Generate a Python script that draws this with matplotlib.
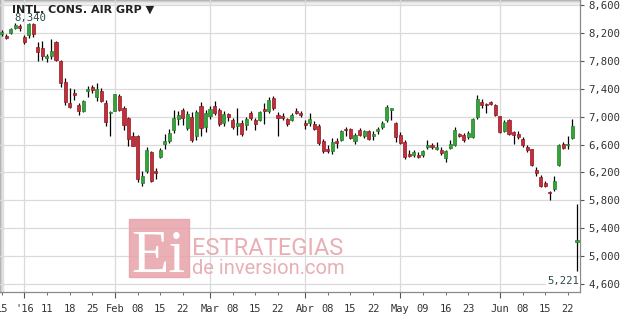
import numpy as np
import matplotlib
matplotlib.use("Agg")
import matplotlib.pyplot as plt
from matplotlib.patches import Rectangle

# daily candles, Dec 24 2015 .. Jun 24 2016 (trading-day index)
opens = [8180, 8160, 8205, 8270, 8300, 8135, 8175, 8330, 7995, 7980,
         7840, 7862, 8075, 7800, 7500, 7200, 7335, 7170, 7075, 7362,
         7430, 7275, 7360, 7200, 7045, 7085, 7300, 7120, 6980, 6715,
         6715, 6050, 6215, 6490, 6215, 6420, 6610, 6645, 6815, 6965,
         7095, 6840, 7000, 6720, 7145, 6850, 7005, 7145, 7100, 6910,
         7035, 6955, 6872, 6915, 6885, 7050, 6955, 6955, 7105, 7075,
         7265, 7025, 7010, 6965, 6948, 7085, 7050, 6910, 6910, 6898,
         6870, 6655, 6540, 6505, 6645, 6670, 6825, 6820, 6648, 6810,
         6728, 6790, 6728, 6798, 6846, 6945, 7100, 6905, 6740, 6635,
         6465, 6445, 6450, 6445, 6565, 6595, 6530, 6525, 6405, 6555,
         6600, 6745, 6740, 6705, 6705, 6995, 7215, 7185, 7210, 7170,
         7005, 6800, 6945, 6785, 6755, 6680, 6570, 6530, 6235, 6130,
         6050, 5925, 5955, 6310, 6610, 6590, 6690, 5205]
highs = [8240, 8180, 8265, 8340, 8330, 8170, 8340, 8340, 8075, 8080,
         7900, 8110, 8090, 7815, 7550, 7410, 7400, 7200, 7240, 7440,
         7460, 7480, 7410, 7240, 7075, 7330, 7330, 7150, 7000, 6780,
         6730, 6215, 6570, 6500, 6270, 6550, 6750, 6820, 7100, 7080,
         7130, 7080, 7060, 7100, 7215, 7100, 7145, 7230, 7120, 7075,
         7050, 6980, 7130, 6955, 6990, 7075, 6980, 7075, 7190, 7275,
         7290, 7060, 7050, 6980, 7050, 7120, 7075, 6955, 7050, 6930,
         6895, 6680, 6600, 6690, 6690, 6810, 6845, 6835, 6765, 6835,
         6810, 6810, 6790, 6845, 6930, 7160, 7125, 6920, 6785, 6660,
         6515, 6525, 6490, 6525, 6660, 6625, 6635, 6560, 6515, 6665,
         6850, 6760, 6765, 6800, 6980, 7305, 7255, 7200, 7220, 7185,
         7015, 6945, 6960, 6800, 6800, 6705, 6595, 6540, 6275, 6165,
         6070, 5940, 6155, 6610, 6635, 6720, 6960, 5750]
lows = [8150, 8110, 8190, 8250, 8230, 8040, 8120, 8140, 7800, 7815,
        7790, 7830, 7795, 7425, 7170, 7120, 7245, 7030, 7060, 7280,
        7340, 7220, 7210, 6860, 6715, 7075, 7080, 6810, 6575, 6580,
        6060, 6010, 6190, 6060, 6100, 6400, 6540, 6620, 6765, 6880,
        6880, 6810, 6630, 6670, 6720, 6775, 6965, 7025, 6860, 6860,
        6930, 6820, 6740, 6720, 6810, 6945, 6810, 6930, 6890, 7050,
        7100, 6720, 6955, 6860, 6930, 7035, 6990, 6820, 6860, 6810,
        6600, 6480, 6480, 6470, 6550, 6645, 6725, 6680, 6610, 6720,
        6695, 6660, 6670, 6750, 6820, 6920, 6950, 6635, 6610, 6395,
        6420, 6420, 6405, 6420, 6530, 6530, 6515, 6450, 6355, 6530,
        6585, 6705, 6635, 6680, 6690, 6970, 7120, 7050, 7160, 7015,
        6770, 6780, 6740, 6610, 6680, 6560, 6490, 6290, 6155, 5990,
        5990, 5810, 5940, 6290, 6530, 6540, 6680, 4790]
closes = [8210, 8125, 8250, 8320, 8270, 8075, 8335, 8190, 7920, 7865,
          7870, 7940, 7815, 7480, 7205, 7140, 7305, 7085, 7225, 7392,
          7388, 7395, 7230, 6920, 7065, 7320, 7100, 6885, 6680, 6585,
          6100, 6155, 6515, 6075, 6185, 6525, 6645, 6765, 6980, 7025,
          6980, 7035, 6660, 7065, 6840, 7050, 7105, 7050, 6895, 7035,
          6995, 6848, 6905, 6745, 6965, 6980, 6895, 7060, 7075, 7240,
          7125, 6980, 6985, 6900, 7025, 7050, 7020, 6885, 6970, 6822,
          6625, 6505, 6505, 6630, 6625, 6790, 6805, 6695, 6740, 6742,
          6790, 6680, 6750, 6812, 6908, 7140, 7115, 6710, 6625, 6420,
          6435, 6490, 6420, 6500, 6600, 6565, 6560, 6480, 6500, 6610,
          6815, 6720, 6660, 6770, 6960, 7255, 7160, 7165, 7180, 7030,
          6780, 6920, 6755, 6730, 6710, 6590, 6525, 6300, 6195, 6005,
          6005, 5900, 6070, 6600, 6550, 6610, 6860, 5221]

month_pos = [5, 25, 46, 67, 88, 110]
month_labels = ["'16", "Feb", "Mar", "Abr", "May", "Jun"]
week_pos = [0, 10, 15, 20, 30, 35, 40, 51, 56, 61, 72, 77, 82, 93, 98, 103, 115, 120, 125]
week_labels = ["15", "11", "18", "25", "08", "15", "22", "08", "15", "22",
               "08", "15", "22", "09", "16", "23", "08", "15", "22"]
price_ticks = list(range(4600, 8601, 400))

W, H = 625, 324
fig = plt.figure(figsize=(W / 100, H / 100), dpi=100)
fig.patch.set_facecolor("white")
ax = fig.add_axes([0, 32 / H, 580 / W, 292 / H])
ax.set_facecolor("none")

x = np.arange(len(opens))
o = np.array(opens)
c = np.array(closes)
up = c >= o
body_h = np.maximum(np.abs(c - o), 22)
body_b = np.minimum(o, c)

ax.vlines(x, lows, highs, color="black", lw=0.9, zorder=2)
ax.bar(x[up], body_h[up], bottom=body_b[up], width=0.68,
       color="#35a23a", edgecolor="#23802a", linewidth=0.5, zorder=3)
ax.bar(x[~up], body_h[~up], bottom=body_b[~up], width=0.68,
       color="#c42e39", edgecolor="#8e1a24", linewidth=0.5, zorder=3)

ax.set_xlim(-0.364, 127.67)
ax.set_ylim(4485, 8672)

ax.set_xticks(month_pos, month_labels)
ax.set_xticks(week_pos, week_labels, minor=True)
ax.set_yticks(price_ticks, [f"{v:,}" for v in price_ticks])
ax.yaxis.tick_right()

ax.grid(axis="y", color="#dadada", lw=0.9)
ax.grid(axis="x", which="major", color="#dadada", lw=0.9)
ax.set_axisbelow(True)

for s in ["top", "left"]:
    ax.spines[s].set_visible(False)
for s in ["bottom", "right"]:
    ax.spines[s].set_color("#8a8a8a")
    ax.spines[s].set_linewidth(0.9)

ax.tick_params(axis="x", which="major", length=4.3, pad=4.6, color="#555555",
               labelsize=7.5, labelcolor="#333333")
ax.tick_params(axis="x", which="minor", length=2.2, pad=6.7, color="#555555",
               labelsize=7.5, labelcolor="#333333")
ax.tick_params(axis="y", length=2.9, pad=3.2, color="#555555",
               labelsize=7.7, labelcolor="#333333")
for lab in ax.get_xticklabels(which="both") + ax.get_yticklabels():
    lab.set_family("DejaVu Sans Mono")

# gray shadow along the top and left edge of the plot frame
shades = ["#b0b0b0", "#cbcbcb", "#e0e0e0", "#efefef"]
for i, col in enumerate(shades):
    fig.add_artist(Rectangle((0, 1 - (i + 1) / H), 580 / W, 1 / H, color=col,
                             transform=fig.transFigure, zorder=-1))
for i, col in enumerate(shades[:3]):
    fig.add_artist(Rectangle((i / W, 32 / H), 1 / W, 292 / H, color=col,
                             transform=fig.transFigure, zorder=-1))

fig.text(12.5 / W, 1 - 12.5 / H, "INTL. CONS. AIR GRP \u25bc", fontsize=8,
         fontweight="bold", color="#222222", va="baseline", ha="left")
fig.text(30 / W, 1 - 17.5 / H, "8,340", fontsize=7.7, family="DejaVu Sans Mono",
         color="#2f4a4a", ha="center", va="center")
fig.text(579 / W, 1 - 281 / H, "5,221", fontsize=7.7, family="DejaVu Sans Mono",
         color="#2f4a4a", ha="right", va="center", zorder=5,
         bbox=dict(facecolor="white", edgecolor="none", pad=0.5))

# watermark
fig.add_artist(Rectangle((129 / W, 1 - 277 / H), 60 / W, 58 / H, color="#e7a2a9",
                         alpha=0.85, transform=fig.transFigure, zorder=4))
fig.text(158 / W, 1 - 272 / H, "Ei", fontsize=44, family="Liberation Serif",
         color="white", ha="center", va="baseline", zorder=5)
fig.text(192 / W, 1 - 255 / H, "ESTRATEGIAS", fontsize=17, family="Roboto",
         color="#e6a7ad", alpha=0.9, ha="left", va="baseline", zorder=5)
fig.text(192 / W, 1 - 274 / H, "de inversion.com", fontsize=14.5, family="Roboto",
         color="#e6a7ad", alpha=0.9, ha="left", va="baseline", zorder=5)

fig.savefig("out.png", dpi=100)
